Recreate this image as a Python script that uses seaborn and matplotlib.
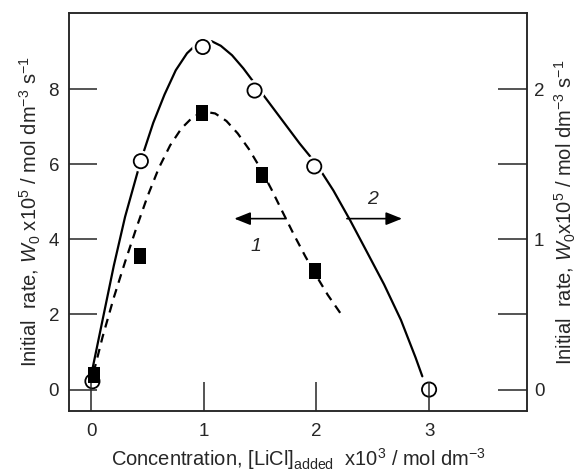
import numpy as np
import pandas as pd
import seaborn as sns
import matplotlib.pyplot as plt
import matplotlib.patheffects as pe
from matplotlib.path import Path


# curve 1 (squares, left axis) and curve 2 (circles, right axis)
conc_1 = [0.02, 0.43, 0.98, 1.52, 1.99]
rate_1 = [0.40, 3.55, 7.37, 5.72, 3.15]
conc_2 = [0.01, 0.44, 0.99, 1.45, 1.98, 3.00]
rate_2 = [0.055, 1.52, 2.28, 1.99, 1.485, 0.0]

# hand drawn guide lines
fit_1_x = [0.02, 0.10, 0.20, 0.30, 0.40, 0.50, 0.60, 0.70, 0.80, 0.90, 1.00,
           1.10, 1.20, 1.30, 1.40, 1.50, 1.60, 1.70, 1.80, 1.90, 2.00, 2.10,
           2.22]
fit_1_y = [0.45, 1.40, 2.45, 3.40, 4.30, 5.15, 5.90, 6.50, 6.95, 7.25, 7.40,
           7.35, 7.15, 6.82, 6.40, 5.90, 5.33, 4.72, 4.12, 3.55, 3.02, 2.52,
           2.00]
fit_2_x = [0.00, 0.10, 0.20, 0.30, 0.44, 0.55, 0.65, 0.75, 0.85, 0.93, 1.00,
           1.07, 1.15, 1.25, 1.35, 1.45, 1.55, 1.70, 1.85, 2.00, 2.15, 2.30,
           2.45, 2.60, 2.75, 2.88, 2.94]
fit_2_y = [0.100, 0.463, 0.825, 1.150, 1.525, 1.775, 1.963, 2.125, 2.238,
           2.295, 2.320, 2.318, 2.288, 2.225, 2.138, 2.038, 1.938, 1.788,
           1.638, 1.500, 1.325, 1.125, 0.913, 0.700, 0.463, 0.213, 0.088]

x_ticks = [0, 1, 2, 3]
left_ticks = [0, 2, 4, 6, 8]
right_ticks = [0, 0.5, 1, 1.5, 2]
right_labels = ['0', '', '1', '', '2']

sns.set_style('ticks')
plt.rcParams['font.family'] = ['Liberation Sans', 'DejaVu Sans']
plt.rcParams['mathtext.fontset'] = 'custom'
plt.rcParams['mathtext.rm'] = 'Liberation Sans'
plt.rcParams['mathtext.it'] = 'Liberation Sans:italic'

fig = plt.figure(figsize=(5.83, 4.74), dpi=100)
ax = fig.add_axes([0.118, 0.133, 0.786, 0.840])
ax2 = ax.twinx()
ax.set_zorder(ax2.get_zorder() + 1)
ax.patch.set_visible(False)

df1 = pd.DataFrame({'x': fit_1_x, 'y': fit_1_y})
df2 = pd.DataFrame({'x': fit_2_x, 'y': fit_2_y})

sns.lineplot(data=df2, x='x', y='y', ax=ax2, sort=False, estimator=None,
             color='black', lw=1.6)
circles = ax2.scatter(conc_2, rate_2, s=105, facecolor='white',
                      edgecolor='black', linewidth=1.3, zorder=5)
circles.set_path_effects([pe.withStroke(linewidth=5, foreground='white')])

sns.lineplot(data=df1, x='x', y='y', ax=ax, sort=False, estimator=None,
             color='black', lw=1.6, linestyle=(0, (4, 3)))
rect = Path([(-0.4, -0.5), (0.4, -0.5), (0.4, 0.5), (-0.4, 0.5), (-0.4, -0.5)])
ax.scatter(conc_1, rate_1, s=120, marker=rect, color='black', zorder=5,
           linewidth=0)

# arrows pointing to the axis each curve belongs to
head = '-|>,head_length=0.7,head_width=0.28'
ax.annotate('', xy=(1.27, 4.55), xytext=(1.73, 4.55),
            arrowprops=dict(arrowstyle=head, color='black', lw=1.2,
                            mutation_scale=14, shrinkA=0, shrinkB=0))
ax.annotate('', xy=(2.76, 4.55), xytext=(2.27, 4.55),
            arrowprops=dict(arrowstyle=head, color='black', lw=1.2,
                            mutation_scale=14, shrinkA=0, shrinkB=0))
ax.text(1.46, 3.8, '1', fontsize=14, style='italic', ha='center', va='center')
ax.text(2.5, 5.05, '2', fontsize=14, style='italic', ha='center', va='center')

ax.set_xlim(-0.2, 3.87)
ax.set_ylim(-0.57, 10.03)
ax2.set_ylim(-0.57 / 4, 10.03 / 4)

ax.set_xticks(x_ticks)
ax.set_yticks(left_ticks)
ax2.set_yticks(right_ticks)
ax2.set_yticklabels(right_labels)

ax.tick_params(axis='x', direction='in', length=21, width=1.1, pad=9,
               labelsize=13.5, top=False)
ax.tick_params(axis='y', direction='in', length=20, width=1.1, pad=7,
               labelsize=13.5)
ax2.tick_params(axis='y', direction='in', length=21, width=1.1, pad=5,
                labelsize=13.5)

for a in (ax, ax2):
    for sp in a.spines.values():
        sp.set_visible(True)
        sp.set_linewidth(1.1)

ax.set_xlabel(r'Concentration, [LiCl]$_{\rm added}$  x10$^3$ / mol dm$^{-3}$',
              fontsize=14.5, labelpad=4)
ax.set_ylabel(r'Initial  rate, $W_0$ x10$^5$ / mol dm$^{-3}$ s$^{-1}$',
              fontsize=14.5, labelpad=4)
ax2.set_ylabel(r'Initial  rate, $W_0$x10$^5$ / mol dm$^{-3}$ s$^{-1}$',
               fontsize=14.5, labelpad=6, rotation=90)

fig.savefig('out.png', dpi=100)
